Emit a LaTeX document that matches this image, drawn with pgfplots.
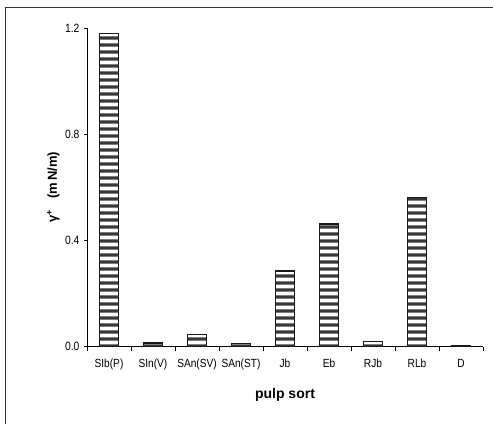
\documentclass[border=0pt]{standalone}
\usepackage{pgfplots}
\pgfplotsset{compat=1.18}
\usetikzlibrary{patterns}
\usepackage{fontspec}
\setmainfont{Liberation Sans}
\newfontfamily\narrowfont[FakeStretch=0.86]{Liberation Sans}

% horizontal stripes, one wide tile per row so no vertical seams appear
\pgfdeclarepatternformonly{hstripes}{\pgfpoint{0bp}{0bp}}{\pgfpoint{600bp}{7.3bp}}{\pgfpoint{600bp}{7.3bp}}{%
  \pgfpathrectangle{\pgfpoint{0bp}{3.8bp}}{\pgfpoint{600bp}{3.5bp}}\pgfusepath{fill}}

\pgfplotstableread{
x    y
0.5  1.178
1.5  0.014
2.5  0.047
3.5  0.013
4.5  0.285
5.5  0.462
6.5  0.020
7.5  0.562
8.5  0.005
}\pulpdata

\begin{document}
\begin{tikzpicture}
\useasboundingbox (0,0) rectangle (493bp,424bp);
% outer frame
\draw[line width=1.5bp, black!80] (5.5bp,0) -- (5.5bp,416.5bp) -- (493bp,416.5bp);
\begin{axis}[
  at={(87bp,77.3bp)}, anchor=south west,
  scale only axis,
  width=396bp, height=318.7bp,
  xmin=0, xmax=9, ymin=0, ymax=1.2,
  axis x line*=bottom, axis y line*=left,
  axis line style={line width=0.8bp, black},
  x axis line style={-}, y axis line style={-},
  xtick={0.5,1.5,...,8.5},
  xticklabels={SIb(P),SIn(V),SAn(SV),SAn(ST),Jb,Eb,RJb,RLb,D},
  minor xtick={0,1,...,9},
  major x tick style={draw=none},
  minor tick length=4.5bp,
  every minor tick/.style={line width=0.8bp, black},
  ytick={0,0.4,0.8,1.2},
  major tick length=3bp,
  y tick style={line width=0.8bp, black},
  tick align=outside,
  /pgf/number format/assume math mode=true,
  yticklabel style={/pgf/number format/fixed, /pgf/number format/fixed zerofill,
    /pgf/number format/precision=1, font=\narrowfont\fontsize{12bp}{14bp}\selectfont,
    xshift=-1bp},
  xticklabel style={font=\narrowfont\fontsize{11.8bp}{14bp}\selectfont, yshift=-6bp},
  xlabel={pulp sort},
  xlabel style={font=\bfseries\fontsize{14bp}{16bp}\selectfont,
    at={(axis description cs:0.5,0)}, anchor=center, yshift=-48bp},
  ylabel={γ\textsuperscript{+}\ \ \ (m\,N/m)},
  ylabel style={font=\bfseries\fontsize{13bp}{15bp}\selectfont,
    at={(axis description cs:-0.085,0.5)}, anchor=center},
  clip=false,
]
\addplot[ybar, bar width=18.7bp, draw=black!90, line width=1.2bp,
  pattern=hstripes, pattern color=black!78] table[x=x,y=y] {\pulpdata};
\end{axis}
\end{tikzpicture}
\end{document}
